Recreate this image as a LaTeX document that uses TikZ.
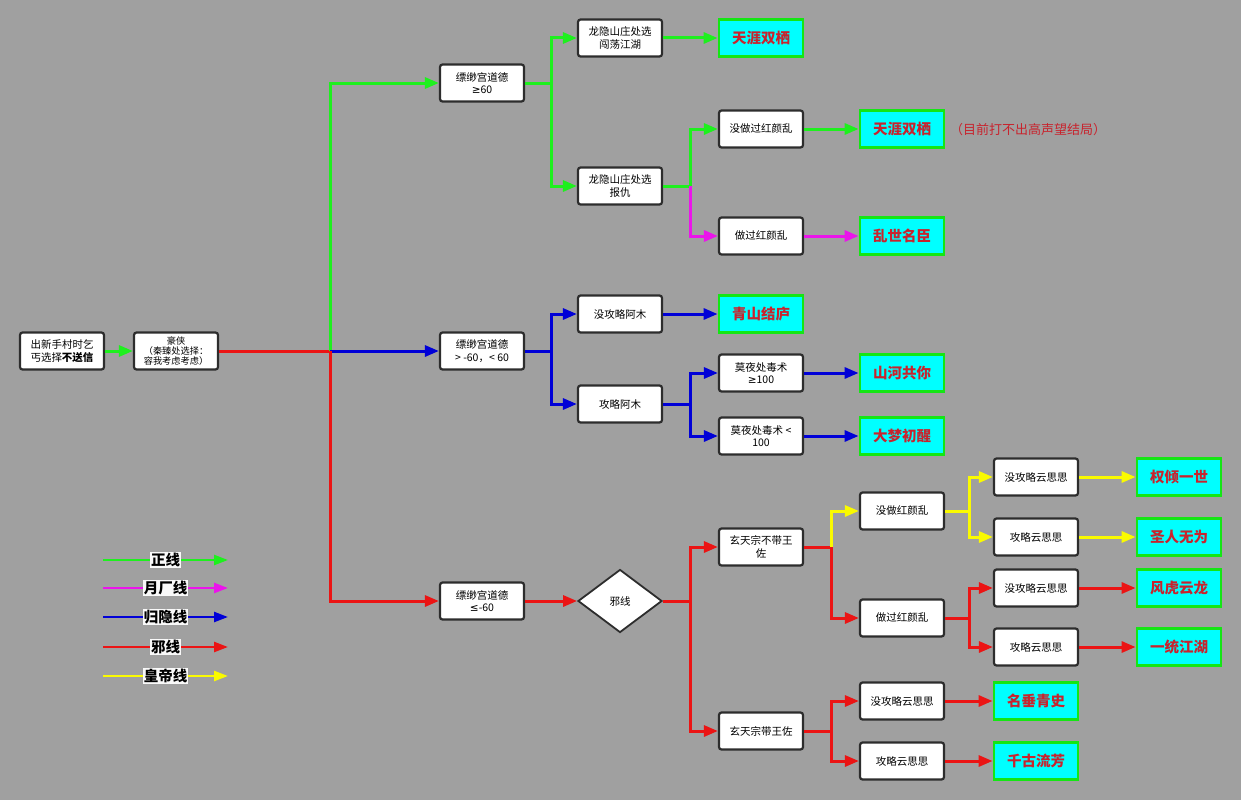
\documentclass[tikz,border=0pt]{standalone}
\usepackage{fontspec}
\setmainfont{Noto Sans CJK SC}
\newfontfamily\symfont{DejaVu Sans}
\usepackage{tikz}
\usetikzlibrary{arrows.meta,shapes.geometric}

\definecolor{bggray}{RGB}{160,160,160}
\definecolor{boxline}{RGB}{45,45,45}
\definecolor{lgreen}{RGB}{30,240,30}
\definecolor{lmag}{RGB}{235,20,235}
\definecolor{lblue}{RGB}{0,0,215}
\definecolor{lred}{RGB}{235,20,20}
\definecolor{lyellow}{RGB}{250,250,0}
\definecolor{endgreen}{RGB}{20,230,20}
\definecolor{endcyan}{RGB}{0,255,255}
\definecolor{endtxt}{RGB}{200,35,45}

\begin{document}
\begin{tikzpicture}[x=1pt,y=1pt]
    \tikzstyle{every node}+=[inner sep=0pt]
    \tikzstyle{box}=[draw=boxline, fill=white, line width=2.2pt, rounded corners=2.5pt, minimum width=84pt, minimum height=37pt, align=center, font=\fontsize{10.5}{12.5}\selectfont]
    \tikzstyle{ending}=[draw=endgreen, fill=endcyan, line width=2.8pt, minimum width=84pt, minimum height=37pt, text=endtxt, font=\fontsize{14.5}{16}\selectfont\bfseries]
    \tikzstyle{link}=[line width=3pt, -{Triangle[length=14pt,width=11pt]}]
    \tikzstyle{wire}=[line width=3pt]
    \tikzstyle{key}=[line width=2.4pt, -{Triangle[length=14pt,width=10pt]}]
    \tikzstyle{keytext}=[fill=white!94!bggray, inner sep=1pt, text=black, font=\fontsize{14.5}{16}\selectfont\bfseries]
    \fill [bggray] (0,0) rectangle (1241,-800);
    \useasboundingbox (0,0) rectangle (1241,-800);
    \node [box] (start) at (62,-351) {出新手村时乞\\丐选择\textbf{不送信}};
    \node [box, font=\fontsize{9.2}{10}\selectfont] (hero) at (176,-351) {豪侠\\（秦臻处选择：\\容我考虑考虑）};
    \node [box] (moralhi) at (482,-83) {缥缈宫道德\\{\symfont ≥}60};
    \node [box] (moralmid) at (482,-351) {缥缈宫道德\\> -60，< 60};
    \node [box] (morallo) at (482,-601) {缥缈宫道德\\{\symfont ≤}-60};
    \node [box] (roam) at (620,-38) {龙隐山庄处选\\闯荡江湖};
    \node [box] (revenge) at (620,-186) {龙隐山庄处选\\报仇};
    \node [ending] (endA) at (761,-38) {天涯双栖};
    \node [box] (noluan) at (761,-129) {没做过红颜乱};
    \node [box] (luan) at (761,-236) {做过红颜乱};
    \node [ending] (endB) at (902,-129) {天涯双栖};
    \node [anchor=west, text=endtxt, font=\fontsize{13}{15}\selectfont] (note) at (950,-130) {（目前打不出高声望结局）};
    \node [ending] (endC) at (902,-236) {乱世名臣};
    \node [box] (noamu) at (620,-314) {没攻略阿木};
    \node [box] (amu) at (620,-404) {攻略阿木};
    \node [ending] (endD) at (761,-314) {青山结庐};
    \node [box] (poisonhi) at (761,-373) {莫夜处毒术\\{\symfont ≥}100};
    \node [box] (poisonlo) at (761,-436) {莫夜处毒术 <\\100};
    \node [ending] (endE) at (902,-373) {山河共你};
    \node [ending] (endF) at (902,-436) {大梦初醒};
    \node [draw=boxline, fill=white, line width=1.8pt, diamond, minimum width=84pt, minimum height=63pt, font=\fontsize{10.5}{12}\selectfont] (evil) at (620,-601) {邪线};
    \node [box] (nowang) at (761,-547) {玄天宗不带王\\佐};
    \node [box] (wang) at (761,-731) {玄天宗带王佐};
    \node [box] (noluan2) at (902,-511) {没做红颜乱};
    \node [box] (luan2) at (902,-618) {做过红颜乱};
    \node [box] (noyun1) at (1036,-477) {没攻略云思思};
    \node [box] (yun1) at (1036,-537) {攻略云思思};
    \node [box] (noyun2) at (1036,-588) {没攻略云思思};
    \node [box] (yun2) at (1036,-647) {攻略云思思};
    \node [ending] (endG) at (1179,-477) {权倾一世};
    \node [ending] (endH) at (1179,-537) {圣人无为};
    \node [ending] (endI) at (1179,-588) {风虎云龙};
    \node [ending] (endJ) at (1179,-647) {一统江湖};
    \node [box] (noyun3) at (902,-701) {没攻略云思思};
    \node [box] (yun3) at (902,-761) {攻略云思思};
    \node [ending] (endK) at (1036,-701) {名垂青史};
    \node [ending] (endL) at (1036,-761) {千古流芳};
    \coordinate (j0) at (330,-351);
    \coordinate (j1) at (551,-83);
    \coordinate (j2) at (690,-186);
    \coordinate (j3) at (551,-351);
    \coordinate (j4) at (690,-404);
    \coordinate (j5) at (690,-601);
    \coordinate (j6) at (831,-547);
    \coordinate (j7) at (969,-511);
    \coordinate (j8) at (969,-618);
    \coordinate (j9) at (831,-731);
    \draw [link, lgreen] (start.east) -- (hero.west);
    \draw [wire, lred] (hero.east) -- (j0);
    \draw [link, lgreen] (j0) |- (moralhi.west);
    \draw [link, lblue] (j0) -- (moralmid.west);
    \draw [link, lred] (j0) |- (morallo.west);
    \draw [wire, lgreen] (moralhi.east) -- (j1);
    \draw [link, lgreen] (j1) |- (roam.west);
    \draw [link, lgreen] (j1) |- (revenge.west);
    \draw [link, lgreen] (roam.east) -- (endA.west);
    \draw [wire, lgreen] (revenge.east) -- (j2);
    \draw [link, lgreen] (j2) |- (noluan.west);
    \draw [link, lmag] (j2) |- (luan.west);
    \draw [link, lgreen] (noluan.east) -- (endB.west);
    \draw [link, lmag] (luan.east) -- (endC.west);
    \draw [wire, lblue] (moralmid.east) -- (j3);
    \draw [link, lblue] (j3) |- (noamu.west);
    \draw [link, lblue] (j3) |- (amu.west);
    \draw [link, lblue] (noamu.east) -- (endD.west);
    \draw [wire, lblue] (amu.east) -- (j4);
    \draw [link, lblue] (j4) |- (poisonhi.west);
    \draw [link, lblue] (j4) |- (poisonlo.west);
    \draw [link, lblue] (poisonhi.east) -- (endE.west);
    \draw [link, lblue] (poisonlo.east) -- (endF.west);
    \draw [link, lred] (morallo.east) -- (evil.west);
    \draw [wire, lred] (evil.east) -- (j5);
    \draw [link, lred] (j5) |- (nowang.west);
    \draw [link, lred] (j5) |- (wang.west);
    \draw [wire, lred] (nowang.east) -- (j6);
    \draw [link, lyellow] (j6) |- (noluan2.west);
    \draw [link, lred] (j6) |- (luan2.west);
    \draw [wire, lyellow] (noluan2.east) -- (j7);
    \draw [link, lyellow] (j7) |- (noyun1.west);
    \draw [link, lyellow] (j7) |- (yun1.west);
    \draw [link, lyellow] (noyun1.east) -- (endG.west);
    \draw [link, lyellow] (yun1.east) -- (endH.west);
    \draw [wire, lred] (luan2.east) -- (j8);
    \draw [link, lred] (j8) |- (noyun2.west);
    \draw [link, lred] (j8) |- (yun2.west);
    \draw [link, lred] (noyun2.east) -- (endI.west);
    \draw [link, lred] (yun2.east) -- (endJ.west);
    \draw [wire, lred] (wang.east) -- (j9);
    \draw [link, lred] (j9) |- (noyun3.west);
    \draw [link, lred] (j9) |- (yun3.west);
    \draw [link, lred] (noyun3.east) -- (endK.west);
    \draw [link, lred] (yun3.east) -- (endL.west);
    \coordinate (leg1a) at (103,-560);
    \coordinate (leg1b) at (228,-560);
    \coordinate (leg2a) at (103,-588);
    \coordinate (leg2b) at (228,-588);
    \coordinate (leg3a) at (103,-617);
    \coordinate (leg3b) at (228,-617);
    \coordinate (leg4a) at (103,-647);
    \coordinate (leg4b) at (228,-647);
    \coordinate (leg5a) at (103,-676);
    \coordinate (leg5b) at (228,-676);
    \draw [key, lgreen] (leg1a) -- node [keytext] (legzheng) {正线} (leg1b);
    \draw [key, lmag] (leg2a) -- node [keytext] (legyue) {月厂线} (leg2b);
    \draw [key, lblue] (leg3a) -- node [keytext] (leggui) {归隐线} (leg3b);
    \draw [key, lred] (leg4a) -- node [keytext] (legxie) {邪线} (leg4b);
    \draw [key, lyellow] (leg5a) -- node [keytext] (leghuang) {皇帝线} (leg5b);
\end{tikzpicture}
\end{document}
